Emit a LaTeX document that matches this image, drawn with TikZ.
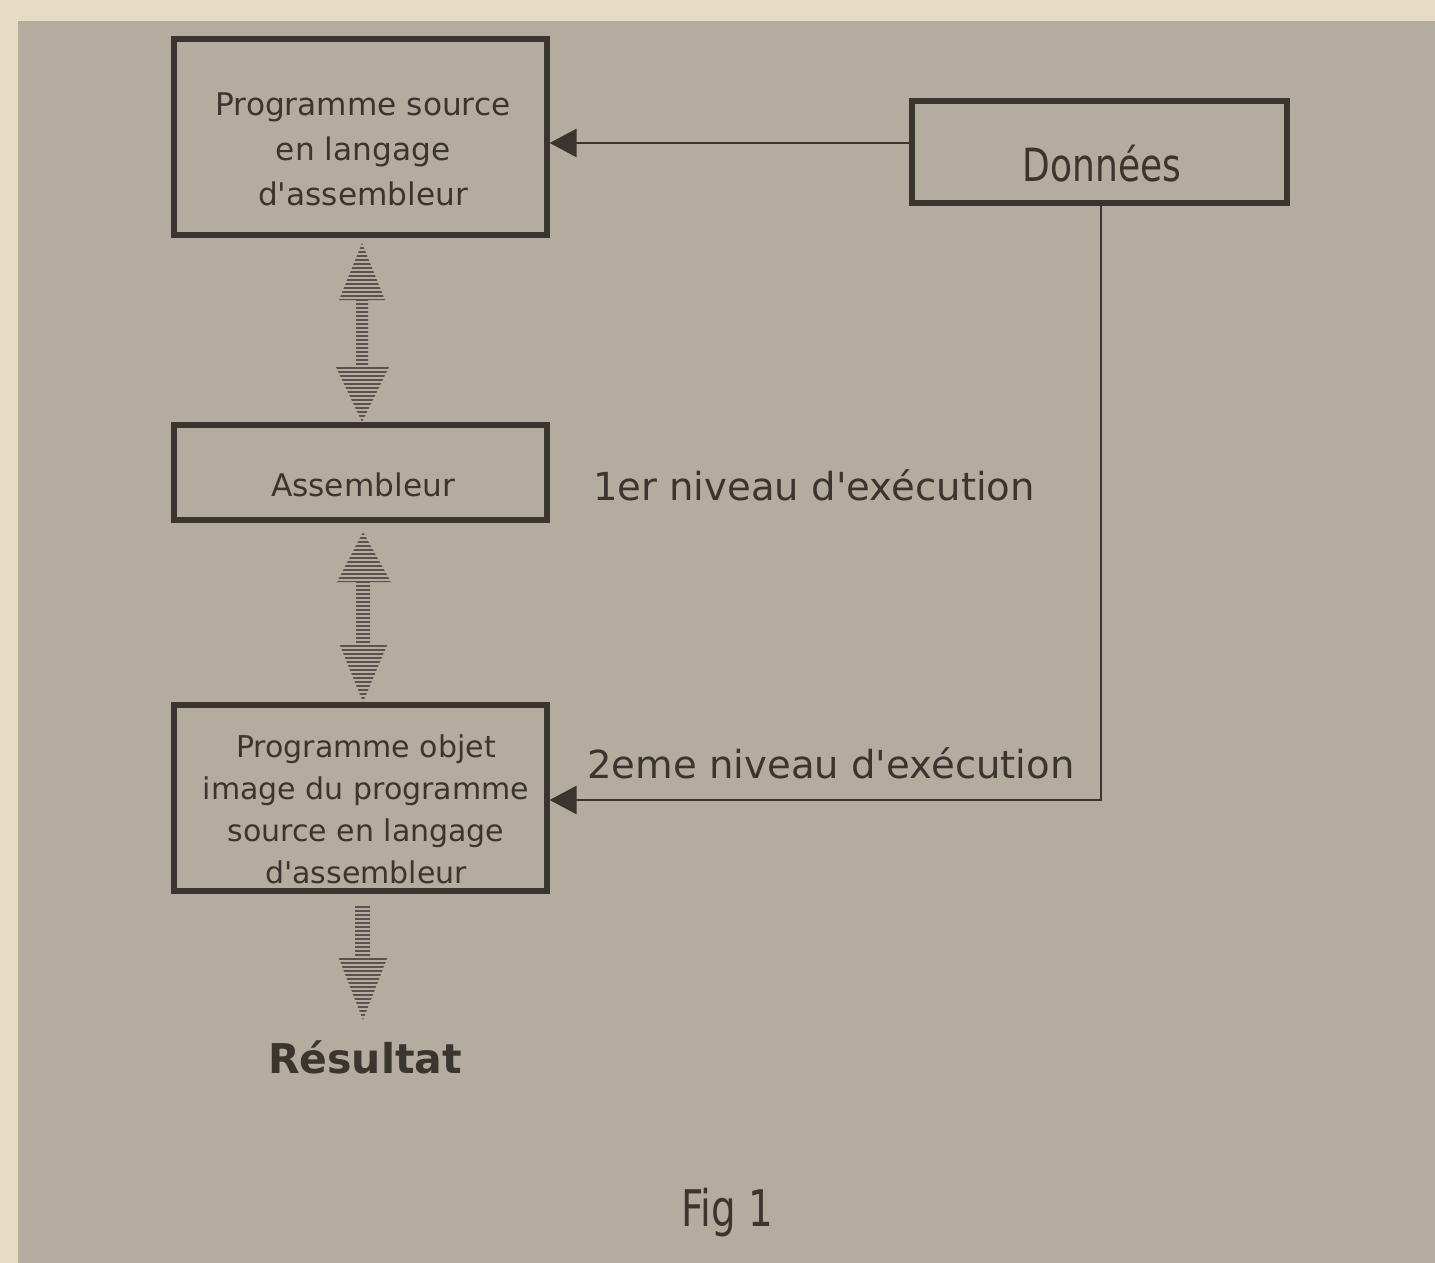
\documentclass[tikz,border=0pt]{standalone}
\usepackage{fontspec}
\setmainfont{DejaVu Sans}
\usetikzlibrary{arrows.meta}
\definecolor{paper}{HTML}{B4AD9F}
\definecolor{cream}{HTML}{E6DCC4}
\definecolor{ink}{HTML}{3A352F}
\newcommand{\ap}{\textquotesingle}
\tikzset{
  box/.style={draw=ink, line width=2.6pt, inner sep=0pt, rectangle},
  boxtxt/.style={text=ink, inner sep=0pt, align=center},
  lbl/.style={text=ink, inner sep=0pt, font=\fontsize{19.3}{23}\selectfont},
  conn/.style={draw=ink, line width=1.4pt, -{Triangle[length=13.5pt,width=14pt]}},
  hatch/.style={draw=ink!85, line width=0.85pt},
}
\begin{document}
\begin{tikzpicture}[x=0.5pt,y=-0.5pt]
% background
\fill[cream] (0,0) rectangle (1435,1263);
\fill[paper] (18,21) rectangle (1435,1263);
\useasboundingbox (0,0) rectangle (1435,1263);

% boxes
\node[box, minimum width=186.5pt, minimum height=98pt] (src) at (360.5,137) {};
\node[box, minimum width=187.5pt, minimum height=51pt] (don) at (1099.5,152) {};
\node[box, minimum width=186.5pt, minimum height=47.5pt] (asm) at (360.5,472.5) {};
\node[box, minimum width=186.5pt, minimum height=93pt] (obj) at (360.5,798) {};

% box texts
\node[boxtxt, font=\fontsize{15.6}{22.5}\selectfont] (srcT) at (363,149) {Programme source\\en langage\\d\ap assembleur};
\node[boxtxt, font=\fontsize{18}{22}\selectfont] (donT) at (1102,164) {\scalebox{1}[1.27]{Données}};
\node[boxtxt, font=\fontsize{15.6}{20}\selectfont] (asmT) at (363,485) {Assembleur};
\node[boxtxt, font=\fontsize{15}{21}\selectfont] (objT) at (366,809) {Programme objet\\image du programme\\source en langage\\d\ap assembleur};

% labels
\node[lbl] (lvl1) at (814,485) {1er niveau d\ap exécution};
\node[lbl] (lvl2) at (831,763) {2eme niveau d\ap exécution};
\node[text=ink, inner sep=0pt, font=\fontsize{20.5}{24}\selectfont\bfseries] (res) at (365,1057) {Résultat};
\node[text=ink, inner sep=0pt, font=\fontsize{19.4}{24}\selectfont] (fig) at (727,1213) {\scalebox{1}[1.3]{Fig 1}};

% connectors
\coordinate (c1) at (912,143);
\coordinate (c2) at (1101,800);
\draw[conn] (c1) -- (src.east |- c1);
\draw[conn] (don.south -| c2) |- (obj.east |- c2);

% hatched double arrows
\begin{scope}
  \clip (362,243) -- (385,300) -- (368,300) -- (368,365) -- (390,365) -- (362,422)
        -- (335,365) -- (356,365) -- (356,300) -- (339,300) -- cycle;
  \foreach \yy in {244,248,...,424} \draw[hatch] (320,\yy) -- (410,\yy);
\end{scope}
\begin{scope}
  \clip (363,532) -- (391,582) -- (370,582) -- (370,643) -- (388,643) -- (363,702)
        -- (339,643) -- (356,643) -- (356,582) -- (337,582) -- cycle;
  \foreach \yy in {534,538,...,702} \draw[hatch] (320,\yy) -- (410,\yy);
\end{scope}
\begin{scope}
  \clip (355,905) -- (370,905) -- (370,956) -- (388,956) -- (363,1020)
        -- (338,956) -- (355,956) -- cycle;
  \foreach \yy in {907,911,...,1020} \draw[hatch] (320,\yy) -- (410,\yy);
\end{scope}
\end{tikzpicture}
\end{document}
